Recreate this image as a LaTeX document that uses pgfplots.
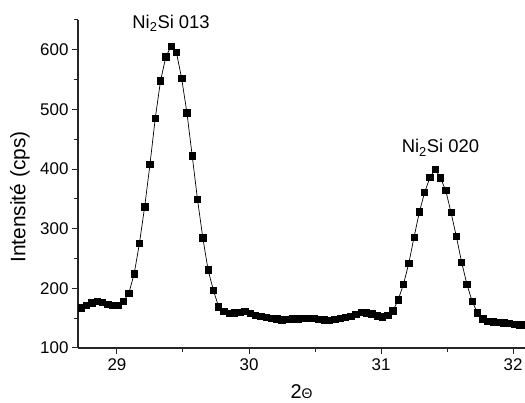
\documentclass[border=0pt]{standalone}
\usepackage{pgfplots}
\pgfplotsset{compat=1.18}
\usepackage{fontspec}
\setmainfont{Liberation Sans}
\begin{document}
\begin{tikzpicture}
\begin{axis}[
  scale only axis,
  width=447bp, height=328bp,
  xmin=28.705, xmax=32.09,
  ymin=100, ymax=650,
  axis x line*=bottom,
  axis y line*=left,
  axis line style={line width=1.1bp, black!85},
  tick style={line width=1bp, black!85},
  tick align=outside,
  major tick length=6bp,
  minor tick length=4bp,
  xtick={29,30,31,32},
  minor xtick={29.5,30.5,31.5},
  ytick={100,200,300,400,500,600},
  minor ytick={150,250,350,450,550,650},
  /pgf/number format/assume math mode=true,
  ticklabel style={font=\fontsize{17}{17}\selectfont},
  xticklabel style={yshift=-1bp},
  xlabel={2{\fontsize{14}{14}\selectfont Θ}},
  ylabel={Intensité (cps)},
  xlabel style={font=\fontsize{20}{20}\selectfont, at={(axis description cs:0.5,-0.134)}, anchor=center},
  ylabel style={font=\fontsize{21}{21}\selectfont, at={(axis description cs:-0.13,0.46)}, anchor=center},
  clip mode=individual,
]
\addplot[black, line width=0.7bp, mark=square*, mark size=3.2bp, mark options={solid, fill=black}] coordinates {
(28.73,167) (28.77,172) (28.81,176) (28.85,178) (28.89,177) (28.93,173) (28.97,171) (29.01,172)
(29.05,178) (29.09,192) (29.13,224) (29.17,275) (29.21,337) (29.25,408) (29.29,485) (29.33,548)
(29.37,588) (29.41,606) (29.45,596) (29.49,552) (29.53,494) (29.57,422) (29.61,349) (29.65,285)
(29.69,231) (29.73,197) (29.77,169) (29.81,161) (29.85,158) (29.89,159) (29.93,160) (29.97,161)
(30.01,158) (30.05,155) (30.09,153) (30.13,151) (30.17,150) (30.21,149) (30.25,147) (30.29,148)
(30.33,149) (30.37,149) (30.41,150) (30.45,150) (30.49,150) (30.53,148) (30.57,147) (30.61,146)
(30.65,148) (30.69,150) (30.73,151) (30.77,153) (30.81,156) (30.85,160) (30.89,159) (30.93,157)
(30.97,154) (31.01,152) (31.05,155) (31.09,162) (31.13,181) (31.17,207) (31.21,242) (31.25,286)
(31.29,328) (31.33,361) (31.37,386) (31.41,400) (31.45,385) (31.49,364) (31.53,327) (31.57,287)
(31.61,244) (31.65,207) (31.69,178) (31.73,159) (31.77,149) (31.81,145) (31.85,144) (31.89,143)
(31.93,142) (31.97,141) (32.01,140) (32.05,139) (32.09,139)
};
\node[anchor=base, font=\fontsize{18.5}{18.5}\selectfont] at (axis cs:29.41,636) {Ni\textsubscript{2}Si 013};
\node[anchor=base, font=\fontsize{18.5}{18.5}\selectfont] at (axis cs:31.45,427) {Ni\textsubscript{2}Si 020};
\end{axis}
\pgfresetboundingbox
\path ([shift={(-78bp,-55bp)}]current axis.south west) rectangle ([shift={(0bp,20bp)}]current axis.north east);
\end{tikzpicture}
\end{document}
